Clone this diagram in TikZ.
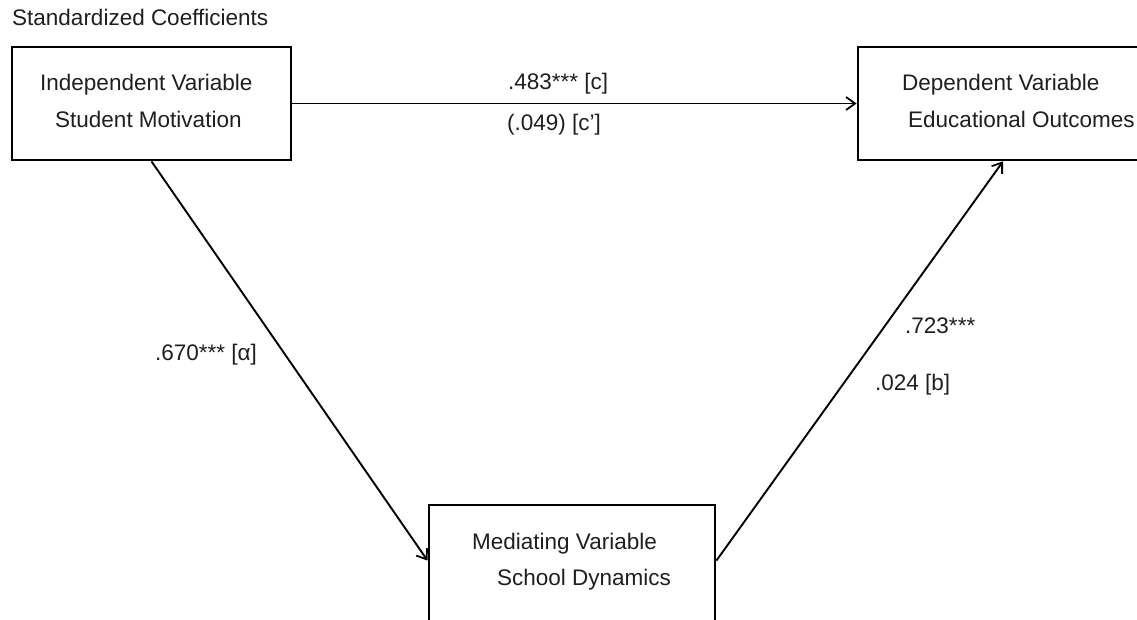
\documentclass[tikz,border=0pt]{standalone}
\usepackage{fontspec}
\setmainfont{Liberation Sans}
\usetikzlibrary{arrows.meta}
\tikzset{
  boxnode/.style={draw=black, line width=2.8pt, rectangle, inner sep=0pt},
  txt/.style={anchor=base west, inner sep=0pt, font=\fontsize{22.5}{27}\selectfont, text=black!88},
  conn/.style={draw=black, line width=1.9pt, -{Straight Barb[length=9pt,width=13pt,line width=1.8pt]}}
}
\begin{document}
\begin{tikzpicture}[x=1pt,y=-1pt]
\useasboundingbox[fill=white] (0,0) rectangle (1137,619);
% boxes
\node[boxnode, minimum width=279pt, minimum height=113pt] (iv) at (151.5,103.5) {};
\node[boxnode, minimum width=290pt, minimum height=113pt] (dv) at (1003,103.5) {};
\node[boxnode, minimum width=286pt, minimum height=130pt] (mv) at (572,570) {};
% title
\node[txt] (title) at (12,25) {Standardized Coefficients};
% box texts
\node[txt] (iv1) at (40,90) {Independent Variable};
\node[txt] (iv2) at (55,127) {Student Motivation};
\node[txt] (dv1) at (902,90) {Dependent Variable};
\node[txt] (dv2) at (908,127) {Educational Outcomes};
\node[txt] (mv1) at (472,549) {Mediating Variable};
\node[txt] (mv2) at (497,585) {School Dynamics};
% connectors
\coordinate (mvin) at ([yshift=-57pt]mv.north west);
\coordinate (mvout) at ([yshift=-57pt]mv.north east);
\draw[conn] (iv.east) -- (dv.west);
\draw[conn] (iv.south) -- (mvin);
\draw[conn] (mvout) -- (dv.south);
% labels
\node[txt] (lc) at (508,89) {.483*** [c]};
\node[txt] (lcp) at (507,130) {(.049) [c']};
\node[txt] (la) at (155,360) {.670*** [α]};
\node[txt] (lb1) at (905,333) {.723***};
\node[txt] (lb2) at (875,390) {.024 [b]};
\end{tikzpicture}
\end{document}
